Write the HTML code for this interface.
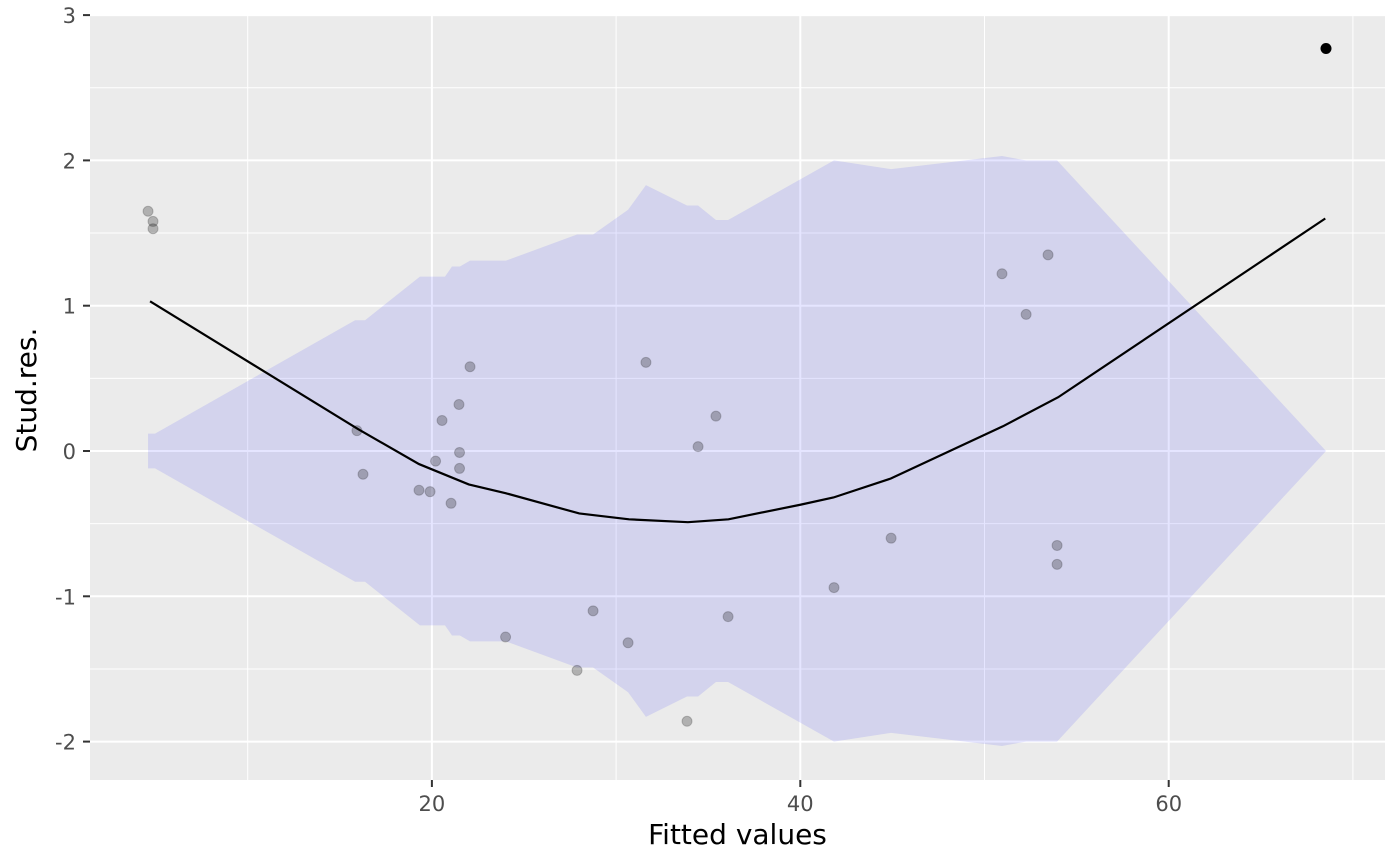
<!DOCTYPE html>
<html><head><meta charset="utf-8">
<style>
html,body{margin:0;padding:0;background:#fff;}
svg{display:block;font-family:"DejaVu Sans","Liberation Sans",sans-serif;}
</style></head>
<body>
<svg id="chart" width="1400" height="866"></svg>
<script>
const pointX=[4.59,4.86,4.86,15.93,16.26,19.3,19.9,20.2,20.55,21.04,21.47,21.5,21.5,22.07,24.0,27.88,28.75,30.65,31.62,33.85,34.45,35.42,36.08,41.83,44.93,50.95,52.26,53.45,53.94,53.94];
const pointY=[1.65,1.58,1.53,0.14,-0.16,-0.27,-0.28,-0.07,0.21,-0.36,0.32,-0.01,-0.12,0.58,-1.28,-1.51,-1.10,-1.32,0.61,-1.86,0.03,0.24,-1.14,-0.94,-0.60,1.22,0.94,1.35,-0.65,-0.78];
const outlierX=[68.54];
const outlierY=[2.77];
const lineX=[4.7,16.0,19.3,22.0,24.0,28.0,30.7,33.9,36.1,40.0,41.8,44.9,51.0,54.0,68.5];
const lineY=[1.03,0.15,-0.09,-0.23,-0.29,-0.43,-0.47,-0.49,-0.47,-0.37,-0.32,-0.19,0.17,0.37,1.60];
const bandX=[4.59,4.97,15.83,16.37,19.35,20.71,21.09,21.52,22.07,24.02,27.88,28.75,30.65,31.62,33.85,34.45,35.42,36.08,41.83,44.93,50.95,52.26,53.45,53.94,68.54];
const bandHalf=[0.12,0.12,0.90,0.90,1.20,1.20,1.27,1.27,1.31,1.31,1.49,1.49,1.66,1.83,1.69,1.69,1.59,1.59,2.0,1.94,2.03,2.0,2.0,2.0,0];
const xTicks=[20,40,60];
const xMinor=[10,30,50,70];
const yTicks=[-2,-1,0,1,2,3];
const yMinor=[-1.5,-0.5,0.5,1.5,2.5];

const L=90,R=1385,T=15,B=780;
const sx=v=>63.5+v*18.42;
const sy=v=>451-v*145.3;
const svg=document.getElementById('chart');
const NS='http://www.w3.org/2000/svg';
function mk(tag,attrs,parent){const e=document.createElementNS(NS,tag);for(const k in attrs)e.setAttribute(k,attrs[k]);(parent||svg).appendChild(e);return e;}

let e=mk('rect',{x:L,y:T,width:R-L,height:B-T,fill:'#EBEBEB'});


xMinor.forEach(v=>{const g=mk('line',{x1:sx(v),x2:sx(v),y1:T,y2:B,stroke:'#fff','stroke-width':1});

});
yMinor.forEach(v=>{const g=mk('line',{x1:L,x2:R,y1:sy(v),y2:sy(v),stroke:'#fff','stroke-width':1});

});
xTicks.forEach(v=>{const g=mk('line',{x1:sx(v),x2:sx(v),y1:T,y2:B,stroke:'#fff','stroke-width':2});


const t=mk('line',{x1:sx(v),x2:sx(v),y1:B,y2:B+7,stroke:'#333','stroke-width':2});


const l=mk('text',{x:sx(v),y:811,'text-anchor':'middle','font-size':21,fill:'#4D4D4D'});l.textContent=v;

});
yTicks.forEach(v=>{const g=mk('line',{x1:L,x2:R,y1:sy(v),y2:sy(v),stroke:'#fff','stroke-width':2});


const t=mk('line',{x1:L-7,x2:L,y1:sy(v),y2:sy(v),stroke:'#333','stroke-width':2});


const l=mk('text',{x:L-14,y:sy(v)+8,'text-anchor':'end','font-size':21,fill:'#4D4D4D'});l.textContent=v;

});

let up=bandX.map((x,i)=>sx(x)+','+sy(bandHalf[i]));
let dn=bandX.map((x,i)=>sx(x)+','+sy(-bandHalf[i])).reverse();
e=mk('polygon',{points:up.concat(dn).join(' '),fill:'#0000FF','fill-opacity':0.1});



pointX.forEach((x,i)=>{const c=mk('circle',{cx:sx(x),cy:sy(pointY[i]),r:5,fill:'#000','fill-opacity':0.25,stroke:'#000','stroke-opacity':0.2});

});

e=mk('polyline',{points:lineX.map((x,i)=>sx(x)+','+sy(lineY[i])).join(' '),fill:'none',stroke:'#000','stroke-width':2.2});



outlierX.forEach((x,i)=>{const c=mk('circle',{cx:sx(x),cy:sy(outlierY[i]),r:5.5,fill:'#000'});

});

e=mk('text',{x:(L+R)/2,y:844,'text-anchor':'middle','font-size':28,fill:'#000'});e.textContent='Fitted values';


e=mk('text',{x:0,y:0,'text-anchor':'middle','font-size':28,fill:'#000',transform:'translate(36,390) rotate(-90)'});e.textContent='Stud.res.';


</script>
</body></html>
